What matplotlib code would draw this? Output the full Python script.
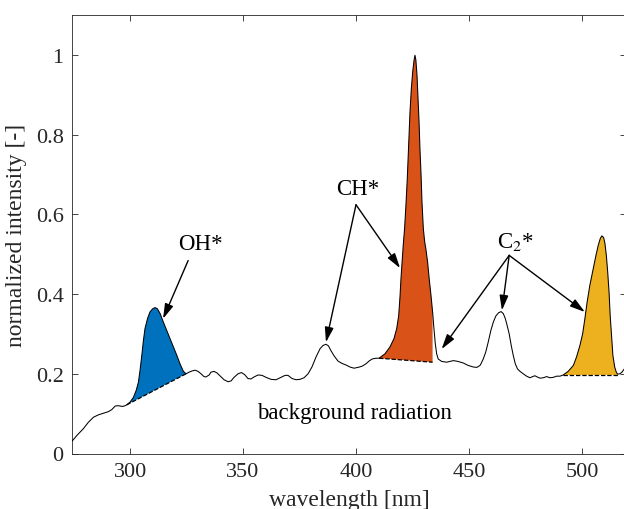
import matplotlib.pyplot as plt
import numpy as np

# spectrum (wavelength in nm, normalized intensity)
wavelength = [274.5, 276.4, 279.3, 281.5, 283.8, 286.0, 288.2, 290.4, 291.9, 293.4,
              294.6, 295.6, 296.8, 297.8,
              298.5, 300.0, 301.5, 302.7, 303.7, 304.4, 305.2, 305.9, 306.6, 307.7,
              308.8, 310.0, 311.1, 312.1, 313.3, 314.7, 316.2, 317.7, 319.2, 320.7,
              322.1, 323.6, 324.8,
              326.1, 327.4, 328.8, 330.1, 331.4, 332.7, 333.6, 335.0, 335.8, 337.2,
              338.5, 339.8, 341.6, 343.4, 344.7, 346.0, 347.8, 349.3, 350.7, 352.2,
              353.5, 354.9, 356.6, 358.4, 360.2, 362.4, 364.6, 366.8, 368.6, 369.9,
              371.7, 373.5, 375.2, 377.0, 378.8, 380.5, 382.3, 384.1, 385.4, 386.7,
              387.8, 388.9, 390.3, 392.0, 393.8, 395.6, 397.3, 399.1, 400.9, 402.7,
              404.4, 405.8, 407.1, 408.8,
              410.2, 412.8, 415.0, 416.8, 418.0, 418.9, 419.5, 419.9, 420.4, 420.9,
              421.5, 422.1, 422.7, 423.3, 423.9, 424.5, 425.1, 425.7, 426.1, 426.5,
              427.0, 427.4, 427.9, 428.3, 428.8, 429.2, 429.8, 430.4, 431.0, 431.7,
              432.4, 433.2, 433.9,
              434.5, 435.1, 435.7, 436.4, 437.9, 440.1, 443.1, 445.1, 447.5, 449.6,
              451.9, 453.5, 454.9, 455.3, 456.3, 457.4, 458.5, 459.7, 460.8, 461.9,
              463.1, 464.2, 465.2, 466.1, 466.9, 467.8, 468.7, 469.6, 470.5, 471.5,
              472.6, 474.0, 475.5, 477.0, 478.2, 479.2, 480.2, 481.4, 482.9, 484.4,
              485.8, 487.3, 488.8, 490.3,
              491.7, 493.9, 496.2, 497.6, 499.1, 500.3, 501.3, 502.3, 503.5, 505.0,
              506.2, 507.2, 508.1, 508.8, 509.6, 510.2, 510.8, 511.4, 512.0, 512.5,
              513.2, 513.7, 514.5, 515.2, 515.8,
              516.8, 517.7, 518.6, 520.0]
intensity = [0.032, 0.045, 0.062, 0.078, 0.091, 0.097, 0.101, 0.105, 0.110, 0.119,
             0.120, 0.119, 0.118, 0.120,
             0.122, 0.129, 0.141, 0.158, 0.179, 0.208, 0.246, 0.283, 0.313, 0.338,
             0.355, 0.363, 0.366, 0.363, 0.351, 0.330, 0.309, 0.288, 0.267, 0.246,
             0.225, 0.206, 0.200,
             0.204, 0.207, 0.209, 0.206, 0.200, 0.193, 0.192, 0.197, 0.204, 0.206,
             0.202, 0.195, 0.185, 0.180, 0.182, 0.191, 0.200, 0.203, 0.198, 0.188,
             0.187, 0.192, 0.197, 0.196, 0.191, 0.186, 0.185, 0.191, 0.196, 0.196,
             0.188, 0.185, 0.186, 0.190, 0.200, 0.217, 0.242, 0.263, 0.271, 0.274,
             0.270, 0.258, 0.245, 0.232, 0.226, 0.222, 0.217, 0.214, 0.216, 0.219,
             0.225, 0.232, 0.237, 0.239,
             0.239, 0.250, 0.267, 0.288, 0.313, 0.346, 0.396, 0.438, 0.480, 0.522,
             0.564, 0.623, 0.690, 0.773, 0.857, 0.916, 0.958, 0.987, 0.999, 0.987,
             0.949, 0.899, 0.832, 0.765, 0.698, 0.631, 0.564, 0.531, 0.510, 0.480,
             0.438, 0.396, 0.355,
             0.313, 0.275, 0.250, 0.237, 0.231, 0.229, 0.233, 0.231, 0.227, 0.221,
             0.217, 0.216, 0.221, 0.225, 0.237, 0.254, 0.279, 0.309, 0.330, 0.345,
             0.353, 0.356, 0.351, 0.338, 0.321, 0.300, 0.271, 0.246, 0.225, 0.212,
             0.206, 0.200, 0.194, 0.190, 0.193, 0.195, 0.192, 0.189, 0.190, 0.193,
             0.190, 0.191, 0.194, 0.194,
             0.197, 0.206, 0.221, 0.242, 0.271, 0.300, 0.338, 0.380, 0.422, 0.464,
             0.497, 0.522, 0.539, 0.546, 0.542, 0.526, 0.497, 0.455, 0.405, 0.346,
             0.288, 0.246, 0.217, 0.204, 0.199,
             0.200, 0.204, 0.211, 0.220]

# emission bands: (start, end) in nm, baseline intensity at start/end, colour
band_names = ['OH*', 'CH*', 'C2*']
band_limits = [(298.5, 324.8), (410.2, 433.9), (491.7, 515.8)]
band_baseline = [(0.122, 0.200), (0.239, 0.229), (0.197, 0.197)]
band_colors = ['#0072BD', '#D95319', '#EDB120']

plt.rcParams['font.family'] = ['Liberation Serif', 'DejaVu Serif']
plt.rcParams['mathtext.fontset'] = 'stix'

fig = plt.figure(figsize=(6.24, 5.10), dpi=100)
ax = fig.add_axes([72 / 624, 55.5 / 510, 554 / 624, 438.5 / 510])

wl = np.array(wavelength)
it = np.array(intensity)

# coloured areas between the spectrum and the local baseline
for (x0, x1), (b0, b1), c in zip(band_limits, band_baseline, band_colors):
    m = (wl >= x0 - 1e-6) & (wl <= x1 + 1e-6)
    px = np.concatenate([wl[m], [x1, x0]])
    py = np.concatenate([it[m], [b1, b0]])
    ax.fill(px, py, color=c, lw=0, zorder=1)
    ax.plot([x0, x1], [b0, b1], color='k', ls=(0, (3.5, 1.5)), lw=0.9, zorder=2)

ax.plot(wl, it, color='k', lw=0.75, zorder=3)

# annotations
arrow = dict(arrowstyle='-|>,head_length=0.75,head_width=0.22', color='k', lw=1.0,
             mutation_scale=12, shrinkA=0, shrinkB=0)
fs = 16.5
ax.text(331.0, 0.526, 'OH*', fontsize=fs, ha='center', va='center')
ax.annotate('', xy=(314.6, 0.338), xytext=(325.7, 0.484), arrowprops=arrow)

ax.text(400.9, 0.665, 'CH*', fontsize=fs, ha='center', va='center')
for tip in [(386.7, 0.279), (419.5, 0.465)]:
    ax.annotate('', xy=tip, xytext=(400.0, 0.624), arrowprops=arrow)

ax.text(470.4, 0.534, r'C$_2$*', fontsize=fs, ha='center', va='center')
for tip in [(437.9, 0.262), (464.6, 0.359), (501.3, 0.355)]:
    ax.annotate('', xy=tip, xytext=(467.8, 0.497), arrowprops=arrow)

ax.text(399.1, 0.104, 'background radiation', fontsize=fs, ha='center', va='center')

ax.set_xlim(274.3, 519.5)
ax.set_ylim(0, 1.1)
ax.set_xticks([300, 350, 400, 450, 500])
ax.set_yticks([0, 0.2, 0.4, 0.6, 0.8, 1.0])
ax.set_yticklabels(['0', '0.2', '0.4', '0.6', '0.8', '1'])
ax.tick_params(direction='in', top=True, right=True, length=4.5, width=0.6,
               colors='#262626', labelsize=16, labelcolor='#262626', pad=6)
for s in ax.spines.values():
    s.set_color('#262626')
    s.set_linewidth(0.6)

ax.set_xlabel('wavelength [nm]', fontsize=17, color='#262626', labelpad=6)
ax.set_ylabel('normalized intensity [-]', fontsize=17, color='#262626', labelpad=6)

fig.savefig('out.png', dpi=100)
